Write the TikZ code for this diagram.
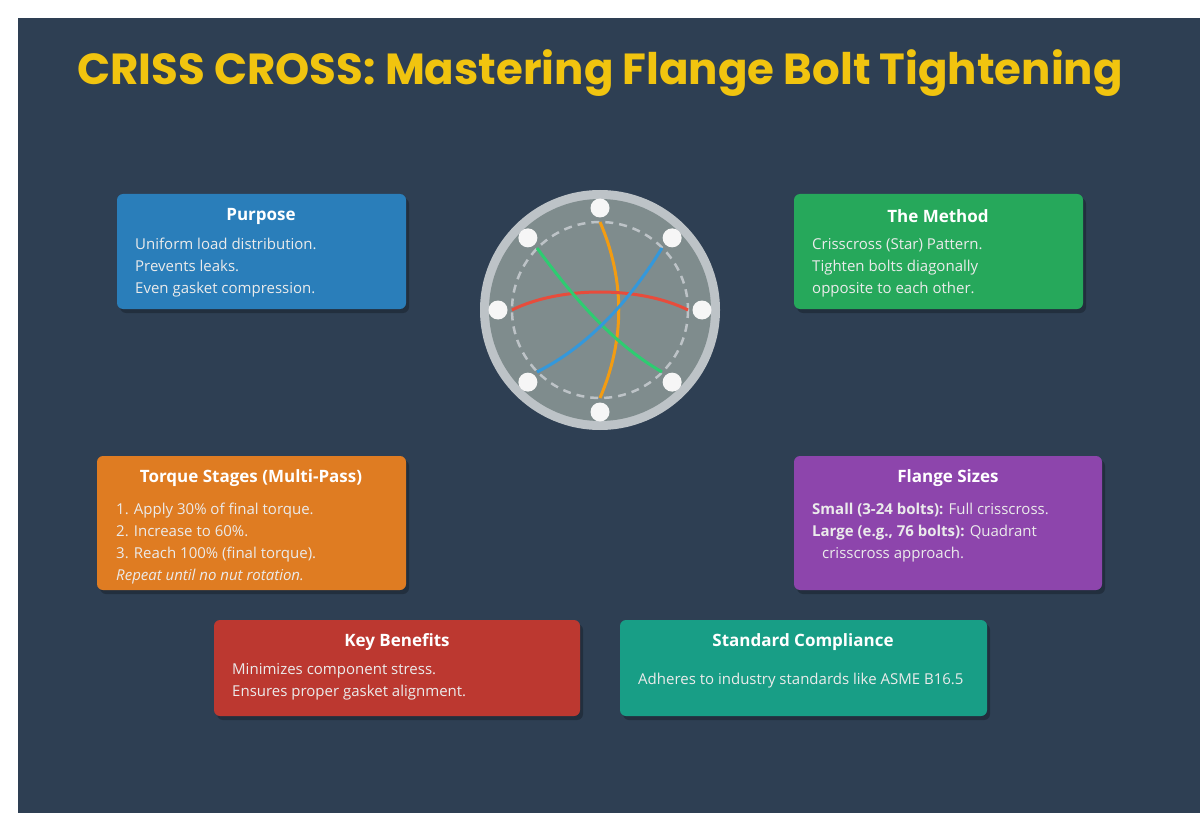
\documentclass[tikz,border=0pt]{standalone}
\usepackage{fontspec}
\usetikzlibrary{calc}
\setmainfont{Open Sans}
\newfontfamily\titlefont{Poppins}
\begin{document}
\begin{tikzpicture}[x=1pt,y=-1pt,
  box/.style={rounded corners=6pt},
  hdr/.style={anchor=center,text=white,font=\bfseries\fontsize{17}{20}\selectfont},
  body/.style={anchor=north west,align=left,text=white!92!black,font=\fontsize{15}{22}\selectfont,inner sep=0pt},
  bolt/.style={circle,fill=white!93!gray,minimum size=19pt,inner sep=0pt},
  chord/.style={line width=3pt}]
\definecolor{bg}{HTML}{2E3F53}
\definecolor{cblue}{HTML}{2A7EBA}
\definecolor{cgreen}{HTML}{26A85B}
\definecolor{corange}{HTML}{DF7C22}
\definecolor{cpurple}{HTML}{8D45AC}
\definecolor{cred}{HTML}{BC3830}
\definecolor{cteal}{HTML}{189E86}
\definecolor{ttl}{HTML}{F1C40F}
\definecolor{ring}{HTML}{BDC3C7}
\definecolor{face}{HTML}{7F8C8D}
\definecolor{lred}{HTML}{E74C3C}
\definecolor{lgreen}{HTML}{2ECC71}
\definecolor{lblue}{HTML}{3498DB}
\definecolor{lorange}{HTML}{F39C12}
\useasboundingbox (0,0) rectangle (1200,813);
\fill[white] (0,0) rectangle (1200,813);
\fill[bg] (18,18) rectangle (1200,813);
\node[font=\titlefont\bfseries\fontsize{43.5}{50}\selectfont,text=ttl] (title) at (600,73) {CRISS CROSS: Mastering Flange Bolt Tightening};
% boxes
\foreach \n/\xa/\ya/\xb/\yb/\c in {p/117/194/406/309/cblue, m/794/194/1083/309/cgreen, t/97/456/406/590/corange, f/794/456/1102/590/cpurple, k/214/620/580/716/cred, s/620/620/987/716/cteal}{
  \fill[black,opacity=0.25,rounded corners=6pt] (\xa+3,\ya+4) rectangle (\xb+3,\yb+4);
  \fill[\c,box] (\xa,\ya) rectangle (\xb,\yb);
  \coordinate (\n) at (\xa,\ya);
}
\node[hdr] (ph) at (261,216) {Purpose};
\node[body] (pb) at (135,238) {Uniform load distribution.\\Prevents leaks.\\Even gasket compression.};
\node[hdr] (mh) at (938,216) {The Method};
\node[body] (mb) at (812,238) {Crisscross (Star) Pattern.\\Tighten bolts diagonally\\opposite to each other.};
\node[hdr] (th) at (251,478) {Torque Stages (Multi-Pass)};
\node[body] (tb) at (116,503) {1. Apply 30\% of final torque.\\2. Increase to 60\%.\\3. Reach 100\% (final torque).\\\textit{Repeat until no nut rotation.}};
\node[hdr] (fh) at (948,478) {Flange Sizes};
\node[body] (fb) at (812,503) {\textbf{Small (3-24 bolts):} Full crisscross.\\\textbf{Large (e.g., 76 bolts):} Quadrant\\\hspace*{10pt}crisscross approach.};
\node[hdr] (kh) at (397,642) {Key Benefits};
\node[body] (kb) at (232,663) {Minimizes component stress.\\Ensures proper gasket alignment.};
\node[hdr] (sh) at (803,642) {Standard Compliance};
\node[body] (sb) at (638,673) {Adheres to industry standards like ASME B16.5};
% flange
\coordinate (c) at (600,310);
\fill[ring] (c) circle (120);
\fill[face] (c) circle (111);
\draw[ring,line width=2.5pt,dash pattern=on 8pt off 6pt] (c) circle (88);
\draw[chord,color=lorange] (600,222) .. controls (625,280) and (625,340) .. (600,398);
\draw[chord,color=lred] (512,310) .. controls (560,286) and (640,286) .. (688,310);
\draw[chord,color=lgreen] (537,248) .. controls (575,300) and (615,345) .. (662,372);
\draw[chord,color=lblue] (662,248) .. controls (630,300) and (590,345) .. (537,372);
\foreach \a [count=\i] in {90,45,0,-45,-90,-135,180,135}{
  \node[bolt] (b\i) at ($(c)+(\a:102)$) {};
}
\end{tikzpicture}
\end{document}
